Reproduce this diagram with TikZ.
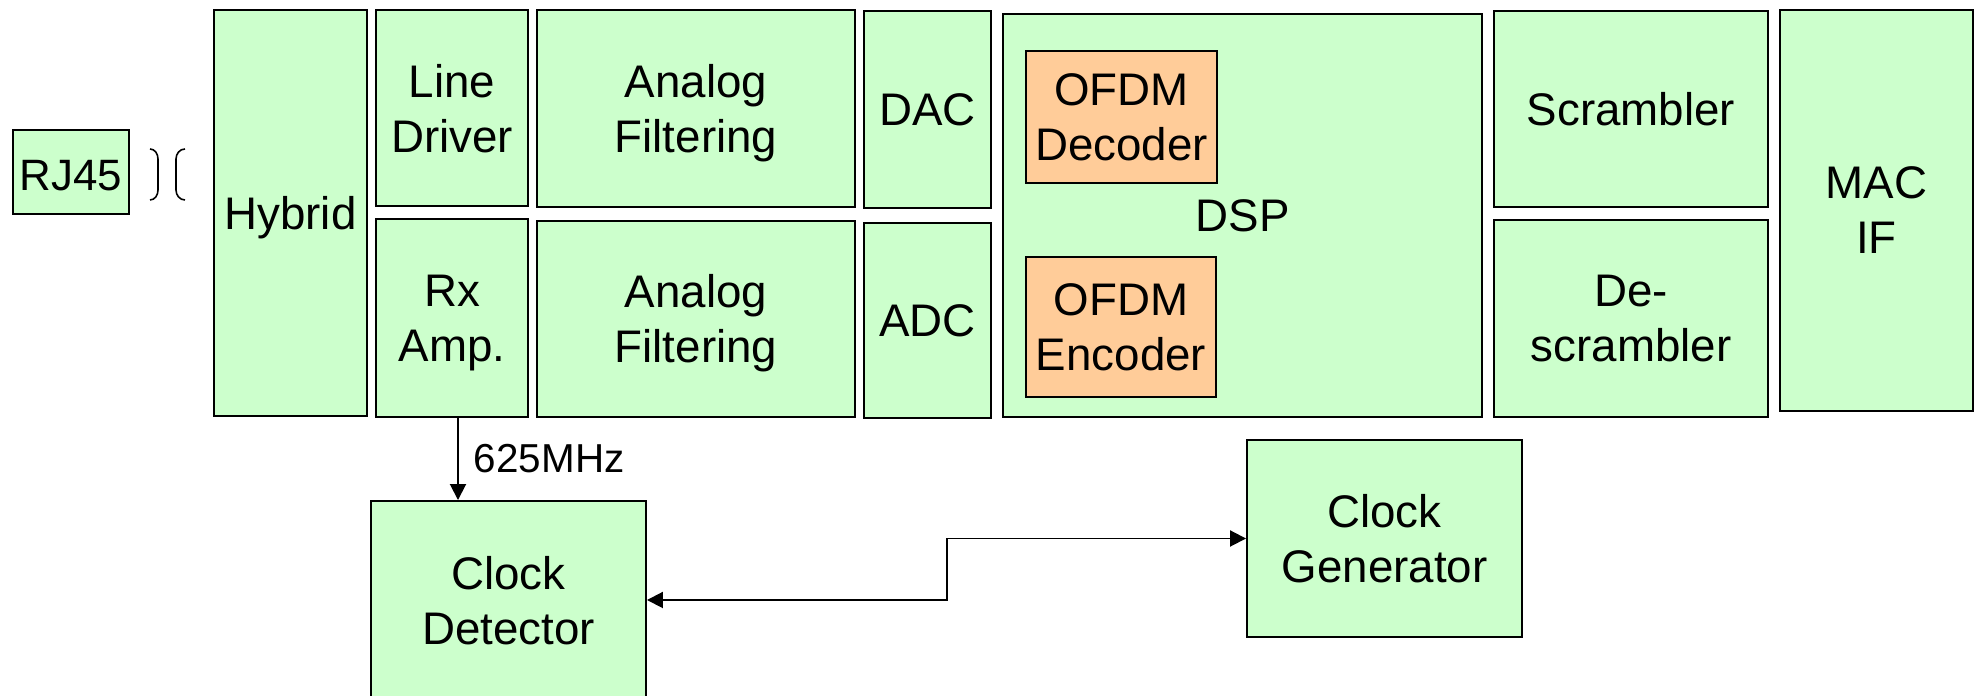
\documentclass[tikz,border=0pt]{standalone}
\usepackage{fontspec}
\setmainfont{Liberation Sans}
\usepackage{xcolor}
\definecolor{BlockGreen}{HTML}{CCFFCC}
\definecolor{CoreOrange}{HTML}{FFCC99}
\usetikzlibrary{arrows.meta, positioning, calc}
\tikzset{
  % Box styles (text depth=0pt so descenders do not push the text up)
  blockbox/.style={rectangle, draw=black, fill=BlockGreen, line width=1.1pt, inner sep=0pt, align=center, text depth=0pt, font=\fontsize{26}{31.3}\selectfont},
  corebox/.style={blockbox, fill=CoreOrange},
  % Arrow styles
  arrow/.style={-{Triangle[length=0.32cm, width=0.32cm]}, line width=1.1pt},
  biarrow/.style={{Triangle[length=0.32cm, width=0.32cm]}-{Triangle[length=0.32cm, width=0.32cm]}, line width=1.1pt},
  bracket/.style={line width=0.9pt}
}

\begin{document}
\begin{tikzpicture}
  \useasboundingbox (0,0) rectangle (39.54,13.92);

  % Connector
  \node[blockbox, minimum width=2.32cm, minimum height=1.68cm, text height=20.7pt, font=\fontsize{25}{30}\selectfont] (rj45) at (1.42,10.48) {RJ45};
  \draw[bracket] (3.00,10.94) to[out=0,in=90] (3.16,10.74) -- (3.16,10.12) to[out=-90,in=0] (3.00,9.92);
  \draw[bracket] (3.70,10.94) to[out=180,in=90] (3.52,10.74) -- (3.52,10.12) to[out=-90,in=180] (3.70,9.92);

  % Analog front end
  \node[blockbox, minimum width=3.06cm, minimum height=8.12cm] (hybrid) at (5.81,9.66) {Hybrid};
  \node[blockbox, minimum width=3.04cm, minimum height=3.92cm] (linedrv) at (9.04,11.76) {Line\\Driver};
  \node[blockbox, minimum width=3.04cm, minimum height=3.96cm, below=0.22cm of linedrv] (rxamp) {Rx\\Amp.};
  \node[blockbox, minimum width=6.36cm, minimum height=3.94cm] (filtertx) at (13.92,11.75) {Analog\\Filtering};
  \node[blockbox, minimum width=6.36cm, minimum height=3.92cm, below=0.24cm of filtertx] (filterrx) {Analog\\Filtering};
  \node[blockbox, minimum width=2.54cm, minimum height=3.94cm] (dac) at (18.55,11.73) {DAC};
  \node[blockbox, minimum width=2.54cm, minimum height=3.90cm, below=0.26cm of dac] (adc) {ADC};

  % Digital part
  \node[blockbox, minimum width=9.58cm, minimum height=8.06cm] (dsp) at (24.85,9.61) {DSP};
  \node[corebox, minimum width=3.82cm, minimum height=2.64cm] (ofdmdec) at (22.43,11.58) {OFDM\\Decoder};
  \node[corebox, minimum width=3.80cm, minimum height=2.80cm] (ofdmenc) at (22.42,7.38) {OFDM\\Encoder};
  \node[blockbox, minimum width=5.48cm, minimum height=3.92cm] (scrambler) at (32.62,11.74) {Scrambler};
  \node[blockbox, minimum width=5.48cm, minimum height=3.94cm, below=0.22cm of scrambler] (descrambler) {De-\\scrambler};
  \node[blockbox, minimum width=3.86cm, minimum height=8.02cm] (macif) at (37.53,9.71) {MAC\\IF};

  % Clocking
  \node[blockbox, minimum width=5.50cm, minimum height=3.96cm] (clkdet) at (10.17,1.92) {Clock\\Detector};
  \node[blockbox, minimum width=5.50cm, minimum height=3.94cm] (clkgen) at (27.69,3.15) {Clock\\Generator};

  \draw[arrow] ([xshift=0.12cm]rxamp.south) -- ([xshift=0.12cm]rxamp.south |- clkdet.north)
    node[midway, right=0.3cm, inner sep=0pt, font=\fontsize{23}{27}\selectfont] {625MHz};
  \draw[biarrow] (clkdet.east) -- ++(6,0) |- (clkgen.west);
\end{tikzpicture}
\end{document}
